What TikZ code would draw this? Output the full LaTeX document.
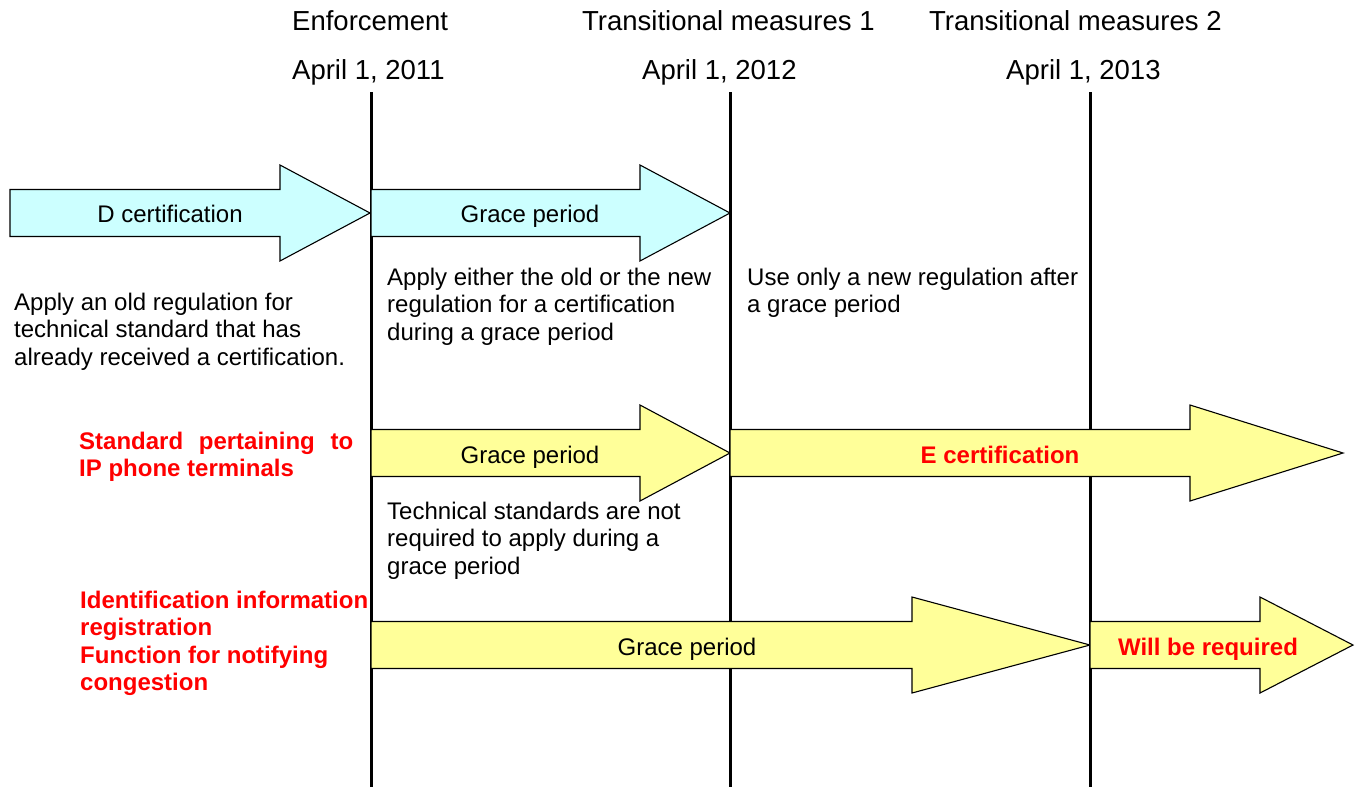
\documentclass[tikz,border=0pt]{standalone}
\usepackage{fontspec}
\setmainfont{Liberation Sans}
\usetikzlibrary{positioning}

\definecolor{paleCyan}{HTML}{CCFFFF}
\definecolor{paleYellow}{HTML}{FFFF99}
\definecolor{noteRed}{HTML}{FF0000}

% block arrow: fill, tail x, head x, tip x, middle y
\newcommand{\phasearrow}[5]{%
    \draw[fill=#1, line width=1.1pt, line join=miter]
        (#2,#5-23.5) -- (#3,#5-23.5) -- (#3,#5-48) -- (#4,#5)
        -- (#3,#5+48) -- (#3,#5+23.5) -- (#2,#5+23.5) -- cycle;}

\begin{document}
\begin{tikzpicture}[x=1pt, y=-1pt]
        \tikzstyle{every node}=[inner sep=0pt, font=\fontsize{24}{27.5}\selectfont]
        \tikzstyle{note}=[anchor=base west, align=left]
        \tikzstyle{alert}=[note, text=noteRed, font=\fontsize{24}{27.5}\selectfont\bfseries]
        \tikzstyle{datelabel}=[anchor=base west, font=\fontsize{27.5}{30}\selectfont]
        \tikzstyle{milestone}=[line width=3pt]

        \useasboundingbox (0,0) rectangle (1359,787);

        % time line
        \node (enf)   [datelabel] at (292,30)  {Enforcement};
        \node (d2011) [datelabel] at (292,79)  {April 1, 2011};
        \node (tm1)   [datelabel] at (582,30)  {Transitional measures 1};
        \node (d2012) [datelabel] at (642,79)  {April 1, 2012};
        \node (tm2)   [datelabel] at (929,30)  {Transitional measures 2};
        \node (d2013) [datelabel] at (1006,79) {April 1, 2013};

        \coordinate (m1top) at (371,92);  \coordinate (m1bot) at (371,787);
        \coordinate (m2top) at (730,92);  \coordinate (m2bot) at (730,787);
        \coordinate (m3top) at (1090,92); \coordinate (m3bot) at (1090,787);

        \draw[milestone] (m1top) -- (m1bot);
        \draw[milestone] (m2top) -- (m2bot);
        \draw[milestone] (m3top) -- (m3bot);

        % arrows
        \phasearrow{paleCyan}{10}{280}{370}{213}
        \phasearrow{paleCyan}{371}{640}{730}{213}
        \phasearrow{paleYellow}{371}{640}{730}{453}
        \phasearrow{paleYellow}{730}{1190}{1343}{453}
        \phasearrow{paleYellow}{371}{912}{1090}{645}
        \phasearrow{paleYellow}{1090}{1260}{1353}{645}

        \node (dcert)  [anchor=base] at (170,222)  {D certification};
        \node (grace1) [anchor=base] at (530,222)  {Grace period};
        \node (grace2) [anchor=base] at (530,463)  {Grace period};
        \node (ecert)  [anchor=base, text=noteRed, font=\fontsize{24}{27.5}\selectfont\bfseries] at (1000,463) {E certification};
        \node (grace3) [anchor=base] at (687,655)  {Grace period};
        \node (willreq) [anchor=base, text=noteRed, font=\fontsize{24}{27.5}\selectfont\bfseries] at (1208,655) {Will be required};

        % notes (base = last line)
        \node (oldreg)  [note] at (14,365)  {Apply an old regulation for\\technical standard that has\\already received a certification.};
        \node (either)  [note] at (387,340) {Apply either the old or the new\\regulation for a certification\\during a grace period};
        \node (newonly) [note] at (747,312.5) {Use only a new regulation after\\a grace period};
        \node (notreq)  [note] at (387,574) {Technical standards are not\\required to apply during a\\grace period};

        \node (ipstd)   [alert] at (79,476.5) {\makebox[274pt][s]{Standard pertaining to}\\IP phone terminals};
        \node (idreg)   [alert] at (80,690.5) {Identification information\\registration\\Function for notifying\\congestion};

    \end{tikzpicture}
\end{document}
